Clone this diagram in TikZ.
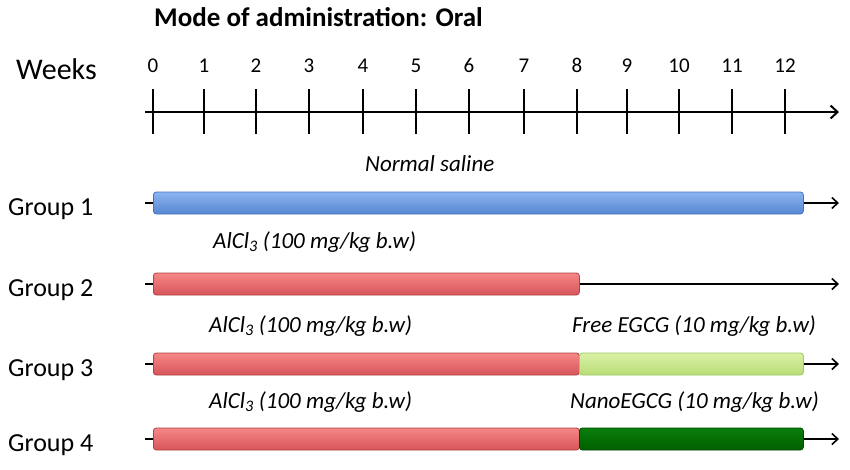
\documentclass[tikz,border=0pt]{standalone}
\usepackage{fontspec}
\setmainfont{Carlito}
\usetikzlibrary{arrows.meta}
\definecolor{bluetop}{RGB}{140,180,240}
\definecolor{bluebot}{RGB}{85,135,210}
\definecolor{blueline}{RGB}{70,115,185}
\definecolor{redtop}{RGB}{245,135,135}
\definecolor{redbot}{RGB}{215,85,90}
\definecolor{redline}{RGB}{180,65,65}
\definecolor{lgtop}{RGB}{218,242,165}
\definecolor{lgbot}{RGB}{185,220,120}
\definecolor{lgline}{RGB}{160,200,100}
\definecolor{dgtop}{RGB}{10,125,10}
\definecolor{dgbot}{RGB}{0,95,0}
\definecolor{dgline}{RGB}{0,75,0}
\begin{document}
\begin{tikzpicture}[x=1pt,y=-1pt,
  bar/.style={rounded corners=3pt, minimum height=22pt, inner sep=0pt, anchor=west, line width=0.8pt},
  bluebar/.style={bar, draw=blueline, top color=bluetop, bottom color=bluebot},
  redbar/.style={bar, draw=redline, top color=redtop, bottom color=redbot},
  lgbar/.style={bar, draw=lgline, top color=lgtop, bottom color=lgbot},
  dgbar/.style={bar, draw=dgline, top color=dgtop, bottom color=dgbot},
  timeline/.style={line width=1.6pt, -{Straight Barb[length=6pt,width=11pt,line width=1.6pt]}},
  axisline/.style={line width=2.2pt, -{Straight Barb[length=7pt,width=13pt,line width=2pt]}},
  grp/.style={anchor=base west, inner sep=0pt, font=\fontsize{26}{30}\selectfont},
  dose/.style={anchor=base west, inner sep=0pt, font=\itshape\fontsize{23}{27}\selectfont},
  wk/.style={anchor=base, inner sep=0pt, font=\fontsize{21}{25}\selectfont}
]
\useasboundingbox (0,0) rectangle (850,469);

% title
\node[anchor=base west, inner sep=0pt, font=\bfseries\fontsize{27}{31}\selectfont] (title) at (154,26) {Mode of administration: Oral};

% weeks axis
\node[grp, font=\fontsize{30}{34}\selectfont] (weeks) at (16,79) {Weeks};
\coordinate (axs) at (145,112);
\coordinate (axe) at (839,112);
\draw[axisline] (axs) -- (axe);
\foreach \i/\x in {0/153,1/204,2/256,3/309,4/363,5/416,6/469,7/524,8/577,9/627,10/679,11/732,12/785}{
  \draw[line width=2.2pt] (\x,89) -- (\x,134);
  \node[wk] (w\i) at (\x,72) {\i};
}

% Group 1
\node[grp] (g1) at (8,215) {Group 1};
\coordinate (s1) at (145,203);
\coordinate (e1) at (839,203);
\draw[timeline] (s1) -- (e1);
\node[bluebar, minimum width=650pt] (b1) at (153,203) {};
\node[dose] (l1) at (365,171) {Normal saline};

% Group 2
\node[grp] (g2) at (8,296) {Group 2};
\coordinate (s2) at (145,284);
\coordinate (e2) at (839,284);
\draw[timeline] (s2) -- (e2);
\node[redbar, minimum width=426pt] (b2) at (153,284) {};
\node[dose] (l2) at (213,248) {AlCl\textsubscript{3} (100 mg/kg b.w)};

% Group 3
\node[grp] (g3) at (8,376) {Group 3};
\coordinate (s3) at (145,364);
\coordinate (e3) at (839,364);
\draw[timeline] (s3) -- (e3);
\node[redbar, minimum width=426pt] (b3a) at (153,364) {};
\node[lgbar, minimum width=224pt] (b3b) at (579,364) {};
\node[dose] (l3a) at (209,332) {AlCl\textsubscript{3} (100 mg/kg b.w)};
\node[dose] (l3b) at (572,332) {Free EGCG (10 mg/kg b.w)};

% Group 4
\node[grp] (g4) at (8,451) {Group 4};
\coordinate (s4) at (145,439);
\coordinate (e4) at (839,439);
\draw[timeline] (s4) -- (e4);
\node[redbar, minimum width=426pt] (b4a) at (153,439) {};
\node[dgbar, minimum width=224pt] (b4b) at (579,439) {};
\node[dose] (l4a) at (209,408) {AlCl\textsubscript{3} (100 mg/kg b.w)};
\node[dose] (l4b) at (570,408) {NanoEGCG (10 mg/kg b.w)};
\end{tikzpicture}
\end{document}
